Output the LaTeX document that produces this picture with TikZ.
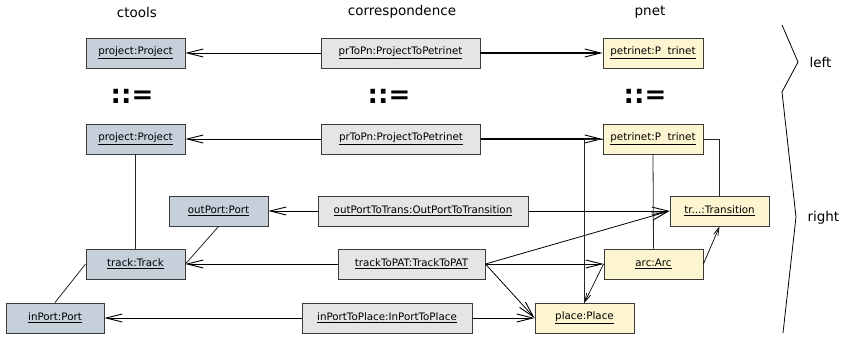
\documentclass[tikz,border=0pt]{standalone}
\usepackage{fontspec}
\setmainfont{DejaVu Sans}
\usetikzlibrary{arrows.meta}
\definecolor{ctfill}{HTML}{C5D0DA}
\definecolor{cofill}{HTML}{E5E5E5}
\definecolor{pnfill}{HTML}{FCF5CF}
\definecolor{bord}{HTML}{3A3A3A}
\tikzset{
  obj/.style={draw=bord, line width=0.9pt, minimum height=30pt, inner sep=0pt, font=\fontsize{10.3}{12}\selectfont},
  ct/.style={obj, fill=ctfill},
  co/.style={obj, fill=cofill},
  pn/.style={obj, fill=pnfill},
  hdr/.style={font=\fontsize{13.5}{15}\selectfont},
  prod/.style={font=\bfseries\fontsize{26}{26}\selectfont},
  back/.style={line width=0.8pt, -{Straight Barb[length=16pt,width=8pt,line width=0.9pt]}},
  fwd/.style={line width=0.8pt, -{Straight Barb[length=16pt,width=8pt,line width=0.9pt]}},
  fwdthick/.style={line width=1.6pt, -{Straight Barb[length=16pt,width=8pt,line width=0.9pt]}},
  link/.style={line width=0.8pt, draw=black!85},
  small/.style={line width=0.7pt, -{Straight Barb[length=8pt,width=4.5pt,line width=0.7pt]}},
}
\begin{document}
\begin{tikzpicture}[x=1pt,y=-1pt]
\useasboundingbox (0,0) rectangle (841,338);
% headers
\node[hdr] (hct) at (137,12) {ctools};
\node[hdr] (hco) at (402,12) {correspondence};
\node[hdr] (hpn) at (650,12) {pnet};
% row 1
\node[ct, minimum width=99pt] (p1) at (135.5,53) {\underline{project:Project}};
\node[co, minimum width=159pt] (c1) at (400.5,53) {\underline{prToPn:ProjectToPetrinet}};
\node[pn, minimum width=100pt] (n1) at (653,53) {\underline{petrinet:P\ \ trinet}};
% ::=
\node[prod] (d1) at (132,96) {::=};
\node[prod] (d2) at (389,96) {::=};
\node[prod] (d3) at (645,96) {::=};
% row 2
\node[ct, minimum width=99pt] (p2) at (135.5,139) {\underline{project:Project}};
\node[co, minimum width=159pt] (c2) at (401,139) {\underline{prToPn:ProjectToPetrinet}};
\node[pn, minimum width=100pt] (n2) at (653,139) {\underline{petrinet:P\ \ trinet}};
% row 3
\node[ct, minimum width=99pt] (op) at (218.5,211) {\underline{outPort:Port}};
\node[co, minimum width=210pt] (c3) at (423,211) {\underline{outPortToTrans:OutPortToTransition}};
\node[pn, minimum width=99pt] (tr) at (719.5,211) {\underline{tr...:Transition}};
% row 4
\node[ct, minimum width=99pt] (tk) at (135.5,264) {\underline{track:Track}};
\node[co, minimum width=147pt] (c4) at (411.5,264) {\underline{trackToPAT:TrackToPAT}};
\node[pn, minimum width=99pt] (arc) at (653.5,264) {\underline{arc:Arc}};
% row 5
\node[ct, minimum width=98pt] (ip) at (55,318) {\underline{inPort:Port}};
\node[co, minimum width=170pt] (c5) at (387,318) {\underline{inPortToPlace:InPortToPlace}};
\node[pn, minimum width=99pt] (pl) at (584.5,318) {\underline{place:Place}};
% correspondence connectors
\draw[back] (c1.west) -- (p1.east);
\draw[fwdthick] (c1.east) -- (n1.west);
\draw[back] (c2.west) -- (p2.east);
\draw[fwdthick] (c2.east) -- (n2.west);
\draw[back] (c3.west) -- (op.east);
\draw[fwd] (c3.east) -- (tr.west);
\draw[back] (c4.west) -- (tk.east);
\draw[fwd] (c4.east) -- (tr.west);
\draw[fwd] (c4.east) -- (arc.west);
\draw[fwd] (c4.east) -- (pl.west);
\draw[back] (c5.west) -- (ip.east);
\draw[fwd] (c5.east) -- (pl.west);
% ctools links
\draw[link] (p2.south) -- (tk.north);
\draw[link] (op.south) -- (tk.east);
\draw[link] (tk.west) -- (ip.north);
% pnet links
\draw[link] (n2.west) -| (pl.north);
\draw[link] (n2.south) -- (arc.north);
\draw[link] (n2.east) -| (tr.north);
\draw[small] (arc.east) -- (tr.south);
\draw[small] (arc.west) -- (pl.north);
% brace
\coordinate (b1) at (782,25);
\coordinate (b2) at (798,62);
\coordinate (b3) at (782,92);
\coordinate (b4) at (796,217);
\coordinate (b5) at (783,333);
\draw[line width=0.8pt] (b1) -- (b2) -- (b3) -- (b4) -- (b5);
\node[hdr, anchor=west] (lleft) at (806,62) {left};
\node[hdr, anchor=west] (lright) at (804,218) {right};
\end{tikzpicture}
\end{document}
